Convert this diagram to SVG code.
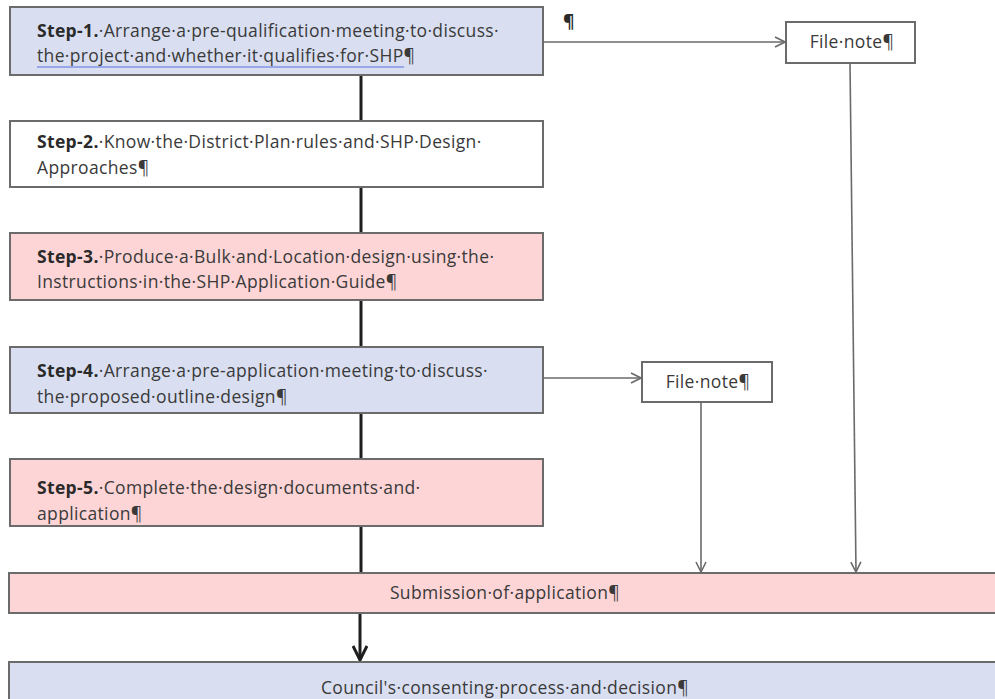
<svg xmlns="http://www.w3.org/2000/svg" width="995" height="699" viewBox="0 0 995 699">
<style>
.box{stroke:#6b6b6b;stroke-width:2}
.blue{fill:#d9dff1}
.pink{fill:#fdd5d6}
.white{fill:#ffffff}
.t{font-family:"Open Sans","Liberation Sans",sans-serif;font-size:17.5px;letter-spacing:0.35px;fill:#3a3a3a}
.b{font-weight:bold;fill:#2a2a2a}
.thick{stroke:#1e1e1e;stroke-width:3;fill:none}
.thin{stroke:#6a6a6a;stroke-width:1.6;fill:none}
</style>
<defs>
<marker id="open" viewBox="0 0 12 12" refX="11" refY="6" markerWidth="12" markerHeight="12" markerUnits="userSpaceOnUse" orient="auto">
<path d="M1,1 L11,6 L1,11" fill="none" stroke="#6a6a6a" stroke-width="1.6"/>
</marker>
<marker id="bold" viewBox="0 0 16 16" refX="15" refY="8" markerWidth="16" markerHeight="16" markerUnits="userSpaceOnUse" orient="auto">
<path d="M1,1 L15,8 L1,15" fill="none" stroke="#1e1e1e" stroke-width="3"/>
</marker>
</defs>
<rect width="995" height="699" fill="#ffffff"/>

<g id="connectors">
<line class="thick" x1="361" y1="75" x2="361" y2="121"/>
<line class="thick" x1="361" y1="187" x2="361" y2="233"/>
<line class="thick" x1="361" y1="300" x2="361" y2="347"/>
<line class="thick" x1="361" y1="413" x2="361" y2="459"/>
<line class="thick" x1="361" y1="526" x2="361" y2="573"/>
<line class="thick" x1="360" y1="613" x2="360" y2="660" marker-end="url(#bold)"/>
<line class="thin" x1="543" y1="42" x2="785" y2="42" marker-end="url(#open)"/>
<line class="thin" x1="543" y1="378" x2="641" y2="378" marker-end="url(#open)"/>
<line class="thin" x1="850" y1="63" x2="856" y2="572" marker-end="url(#open)"/>
<line class="thin" x1="701" y1="402" x2="701" y2="572" marker-end="url(#open)"/>
<text class="t b" x="563" y="28">¶</text>
</g>

<g id="step1">
<rect class="box blue" x="10" y="7" width="533" height="68"/>
<text class="t" x="37" y="37"><tspan class="b">Step-1.</tspan>·Arrange·a·pre-qualification·meeting·to·discuss·</text>
<text class="t" x="37" y="62">the·project·and·whether·it·qualifies·for·SHP¶</text>
<line x1="37" y1="67" x2="404" y2="67" stroke="#5a6ee0" stroke-width="1.2"/>
</g>

<g id="step2">
<rect class="box white" x="10" y="121" width="533" height="66"/>
<text class="t" x="37" y="148"><tspan class="b">Step-2.</tspan>·Know·the·District·Plan·rules·and·SHP·Design·</text>
<text class="t" x="37" y="174">Approaches¶</text>
</g>

<g id="step3">
<rect class="box pink" x="10" y="233" width="533" height="67"/>
<text class="t" x="37" y="263"><tspan class="b">Step-3.</tspan>·Produce·a·Bulk·and·Location·design·using·the·</text>
<text class="t" x="37" y="288">Instructions·in·the·SHP·Application·Guide¶</text>
</g>

<g id="step4">
<rect class="box blue" x="10" y="347" width="533" height="66"/>
<text class="t" x="37" y="377"><tspan class="b">Step-4.</tspan>·Arrange·a·pre-application·meeting·to·discuss·</text>
<text class="t" x="37" y="403">the·proposed·outline·design¶</text>
</g>

<g id="step5">
<rect class="box pink" x="10" y="459" width="533" height="67"/>
<text class="t" x="37" y="494"><tspan class="b">Step-5.</tspan>·Complete·the·design·documents·and·</text>
<text class="t" x="37" y="520">application¶</text>
</g>

<g id="filenote1">
<rect class="box white" x="786" y="22" width="129" height="41"/>
<text class="t" x="852" y="48" text-anchor="middle">File·note¶</text>
</g>

<g id="filenote2">
<rect class="box white" x="642" y="362" width="130" height="40"/>
<text class="t" x="708" y="388" text-anchor="middle">File·note¶</text>
</g>

<g id="submission">
<rect class="box pink" x="9" y="573" width="990" height="40"/>
<text class="t" x="505" y="599" text-anchor="middle">Submission·of·application¶</text>
</g>

<g id="council">
<rect class="box blue" x="9" y="662" width="990" height="45"/>
<text class="t" x="505" y="694" text-anchor="middle">Council's·consenting·process·and·decision¶</text>
</g>
</svg>
